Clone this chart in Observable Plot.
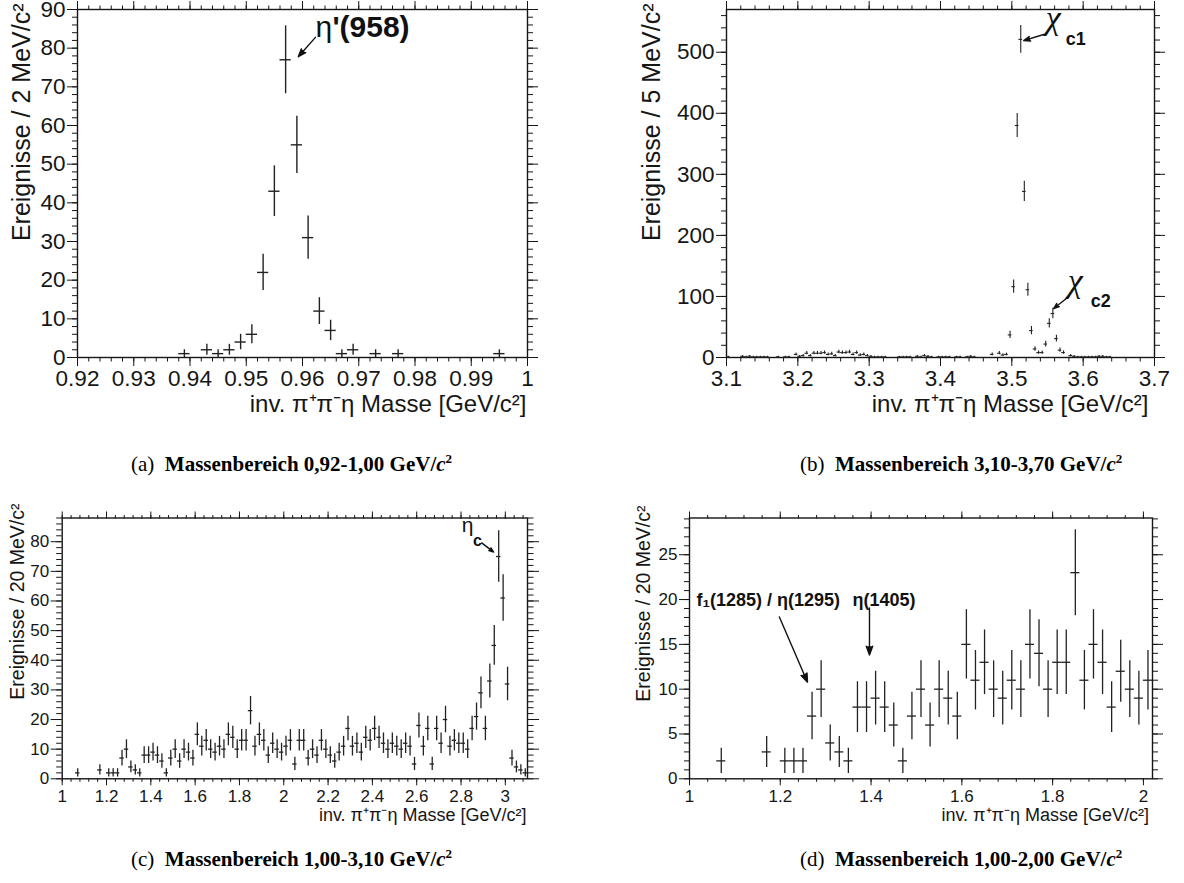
<!DOCTYPE html>
<html><head><meta charset="utf-8">
<script src="https://cdn.jsdelivr.net/npm/d3@7"></script>
<script src="https://cdn.jsdelivr.net/npm/@observablehq/plot@0.6"></script>
<style>
body{margin:0;background:#fff;}
#fig{position:relative;width:1184px;height:883px;background:#fff;overflow:hidden;}
#fig svg{position:absolute;max-width:none;}
.cap{position:absolute;font-family:"Liberation Serif","Times New Roman",serif;font-size:21px;white-space:nowrap;color:#000;line-height:1;}
.cap b{font-weight:bold;}
</style></head><body><div id="fig"></div>
<script>
// ---------- Panel (a): 0.92-1.00 GeV, 2 MeV bins ----------
const massA  = [0.939,0.943,0.945,0.947,0.949,0.951,0.953,0.955,0.957,0.959,0.961,0.963,0.965,0.967,0.969,0.973,0.977,0.995];
const countA = [1,2,1,2,4,6,22,43,77,55,31,12,7,1,2,1,1,1];
const xTicksA = [0.92,0.93,0.94,0.95,0.96,0.97,0.98,0.99,1];
const xLabelsA = ["0.92","0.93","0.94","0.95","0.96","0.97","0.98","0.99","1"];
const yTicksA = [0,10,20,30,40,50,60,70,80,90];
const yLabelsA = ["0","10","20","30","40","50","60","70","80","90"];

// ---------- Panel (b): 3.10-3.70 GeV, 5 MeV bins ----------
const massB = [3.1025,3.1225,3.1275,3.1325,3.1375,3.1425,3.1475,3.1525,3.1575,3.1725,3.1825,3.1875,
  3.1975,3.2025,3.2075,3.2125,3.2175,3.2225,3.2275,3.2325,3.2375,3.2425,3.2475,3.2525,3.2575,3.2625,
  3.2675,3.2725,3.2775,3.2825,3.2875,3.2925,3.2975,3.3025,3.3075,3.3125,3.3175,3.3225,3.3425,3.3475,
  3.3525,3.3575,3.3675,3.3725,3.3775,3.3825,3.3875,3.3975,3.4025,3.4075,3.4125,3.4225,3.4275,3.4375,
  3.4425,3.4475,3.4725,3.4825,3.4875,3.4925,3.4975,3.5025,3.5075,3.5125,3.5175,3.5225,3.5275,3.5325,
  3.5375,3.5425,3.5475,3.5525,3.5575,3.5625,3.5675,3.5725,3.5825,3.5875,3.5925,3.5975,3.6025,3.6075,
  3.6125,3.6175,3.6225,3.6275,3.6325,3.6375];
const countB = [1,2,1,2,1,1,1,1,1,1,1,1,
  5,2,3,7,3,7,7,7,8,5,6,3,9,8,
  8,9,5,8,4,5,3,2,1,1,1,1,1,1,
  1,1,2,1,3,2,1,1,1,1,1,1,1,1,
  2,1,5,7,4,5,37,116,380,521,272,111,44,14,
  8,8,22,56,72,31,12,8,3,2,1,1,1,1,
  1,1,2,2,1,1];
const xTicksB = [3.1,3.2,3.3,3.4,3.5,3.6,3.7];
const xLabelsB = ["3.1","3.2","3.3","3.4","3.5","3.6","3.7"];
const yTicksB = [0,100,200,300,400,500];
const yLabelsB = ["0","100","200","300","400","500"];

// ---------- Panel (c): 1.00-3.10 GeV, 20 MeV bins ----------
const massC = [1.07,1.17,1.21,1.23,1.25,1.27,1.29,1.31,1.33,1.35,1.37,1.39,1.41,1.43,1.45,1.47,1.49,1.51,1.53,1.55,
  1.57,1.59,1.61,1.63,1.65,1.67,1.69,1.71,1.73,1.75,1.77,1.79,1.81,1.83,1.85,1.87,1.89,1.91,1.93,1.95,1.97,1.99,
  2.01,2.03,2.05,2.07,2.09,2.11,2.13,2.15,2.17,2.19,2.21,2.23,2.25,2.27,2.29,2.31,2.33,2.35,2.37,2.39,2.41,2.43,
  2.45,2.47,2.49,2.51,2.53,2.55,2.57,2.59,2.61,2.63,2.65,2.67,2.69,2.71,2.73,2.75,2.77,2.79,2.81,2.83,2.85,2.87,
  2.89,2.91,2.93,2.95,2.97,2.99,3.01,3.03,3.05,3.07,3.09];
const countC = [2,3,2,2,2,7,10,4,3,2,8,8,9,8,6,2,7,10,6,10,
  9,7,15,11,13,10,9,11,10,15,14,10,13,13,23,11,15,13,8,12,10,9,
  11,13,5,13,13,7,10,8,13,10,8,6,9,11,17,11,12,9,14,13,17,14,
  12,10,12,11,10,12,11,5,18,11,17,5,17,12,20,11,13,12,12,10,17,21,
  29,17,33,45,75,61,32,7,4,3,2];
const xTicksC = [1,1.2,1.4,1.6,1.8,2,2.2,2.4,2.6,2.8,3];
const xLabelsC = ["1","1.2","1.4","1.6","1.8","2","2.2","2.4","2.6","2.8","3"];
const yTicksC = [0,10,20,30,40,50,60,70,80];
const yLabelsC = ["0","10","20","30","40","50","60","70","80"];

// ---------- Panel (d): 1.00-2.00 GeV, 20 MeV bins ----------
const massD = [1.07,1.17,1.21,1.23,1.25,1.27,1.29,1.31,1.33,1.35,1.37,1.39,1.41,1.43,1.45,1.47,1.49,1.51,1.53,1.55,
  1.57,1.59,1.61,1.63,1.65,1.67,1.69,1.71,1.73,1.75,1.77,1.79,1.81,1.83,1.85,1.87,1.89,1.91,1.93,1.95,1.97,1.99,2.01];
const countD = [2,3,2,2,2,7,10,4,3,2,8,8,9,8,6,2,7,10,6,10,
  9,7,15,11,13,10,9,11,10,15,14,10,13,13,23,11,15,13,8,12,10,9,11];
const xTicksD = [1,1.2,1.4,1.6,1.8,2];
const xLabelsD = ["1","1.2","1.4","1.6","1.8","2"];
const yTicksD = [0,5,10,15,20,25];
const yLabelsD = ["0","5","10","15","20","25"];

// ---------- Texts ----------
const xTitle = "inv. π⁺π⁻η Masse [GeV/c²]";
const yTitles = ["Ereignisse / 2 MeV/c²","Ereignisse / 5 MeV/c²","Ereignisse / 20 MeV/c²","Ereignisse / 20 MeV/c²"];

// ---------- Annotations (data coordinates) ----------
const SANS = '"Liberation Sans", Arial, Helvetica, sans-serif';
const SERIF = '"Liberation Serif", "Times New Roman", serif';
const labelsA = [{x:0.9623,y:85.3,t:"η",w:"normal",dx:0,fs:30,ff:SANS,st:"normal"},
                 {x:0.9623,y:85.3,t:"'(958)",w:"bold",dx:17,fs:30,ff:SANS,st:"normal"}];
const arrowsA = [{x1:0.9623,y1:82.8,x2:0.95925,y2:77.8}];
const labelsB = [{x:3.5474,y:556,t:"χ",w:"normal",dx:0,fs:34,ff:SERIF,st:"italic"},
                 {x:3.5755,y:520.5,t:"c1",w:"bold",dx:0,fs:18,ff:SANS,st:"normal"},
                 {x:3.5783,y:125.9,t:"χ",w:"normal",dx:0,fs:34,ff:SERIF,st:"italic"},
                 {x:3.6105,y:91.4,t:"c2",w:"bold",dx:0,fs:18,ff:SANS,st:"normal"}];
const arrowsB = [{x1:3.5446,y1:529,x2:3.5166,y2:519},{x1:3.5783,y1:98.3,x2:3.5586,y2:80.2}];
const labelsC = [{x:2.8032,y:85.6,t:"η",w:"normal",dx:0,fs:21,ff:SANS,st:"normal"},
                 {x:2.8545,y:80.3,t:"c",w:"bold",dx:0,fs:16,ff:SANS,st:"normal"}];
const arrowsC = [{x1:2.8932,y1:79.6,x2:2.9473,y2:76.5}];
const labelsD = [{x:1.0154,y:19.94,t:"f₁(1285) / η(1295)",w:"bold",dx:0,fs:18,ff:SANS,st:"normal"},
                 {x:1.359,y:19.94,t:"η(1405)",w:"bold",dx:0,fs:18,ff:SANS,st:"normal"}];
const arrowsD = [{x1:1.198,y1:18.06,x2:1.260,y2:10.78},{x1:1.3965,y1:19.07,x2:1.3965,y2:13.81}];

function rangeTicks(a, b, step, dec){ const out=[]; const n=Math.round((b-a)/step); for(let i=0;i<=n;i++) out.push(+(a+i*step).toFixed(dec)); return out; }

const INK = "#161616";
function panel(c){
  const data = c.xs.map((x,i)=>({x, y:c.ys[i]}));
  const fx = new Map(c.xMajor.map((v,i)=>[v,c.xLabels[i]]));
  const fy = new Map(c.yMajor.map((v,i)=>[v,c.yLabels[i]]));
  const none = () => "";
  const marks = [
    Plot.axisX({anchor:"bottom", ticks:c.xMajor, tickSize:c.xt, tickPadding:c.xpad, tickFormat:d=>fx.get(d), label:null, stroke:INK}),
    Plot.axisX({anchor:"bottom", ticks:c.xMinor, tickSize:c.xt/2, tickFormat:none, label:null, stroke:INK}),
    Plot.axisX({anchor:"top", ticks:c.xMajor, tickSize:c.xt, tickFormat:none, label:null, stroke:INK}),
    Plot.axisX({anchor:"top", ticks:c.xMinor, tickSize:c.xt/2, tickFormat:none, label:null, stroke:INK}),
    Plot.axisY({anchor:"left", ticks:c.yMajor, tickSize:c.yt, tickPadding:c.ypad, tickFormat:d=>fy.get(d), label:null, stroke:INK}),
    Plot.axisY({anchor:"left", ticks:c.yMinor, tickSize:c.yt/2, tickFormat:none, label:null, stroke:INK}),
    Plot.axisY({anchor:"right", ticks:c.yMajor, tickSize:c.yt, tickFormat:none, label:null, stroke:INK}),
    Plot.axisY({anchor:"right", ticks:c.yMinor, tickSize:c.yt/2, tickFormat:none, label:null, stroke:INK}),
    Plot.frame({stroke:INK, strokeWidth:1.4}),
    Plot.ruleX(data, {x:"x", y1:d=>Math.max(0,d.y-Math.sqrt(d.y)), y2:d=>d.y+Math.sqrt(d.y), stroke:"#222", strokeWidth:c.sw}),
    Plot.ruleY(data, {y:"y", x1:d=>d.x-c.binW/2, x2:d=>d.x+c.binW/2, stroke:"#222", strokeWidth:c.sw}),
    Plot.text([c.yTitle], {frameAnchor:"top-left", text:d=>d, rotate:-90, textAnchor:"end", dx:c.ytdx, dy:c.ytdy, fontSize:c.yTitleFs, fill:INK}),
    Plot.text([xTitle], {frameAnchor:"bottom-right", text:d=>d, textAnchor:"end", dx:c.xtdx, dy:c.xtdy, fontSize:c.xTitleFs, fill:INK}),
    Plot.arrow(c.arrows, {x1:"x1", y1:"y1", x2:"x2", y2:"y2", stroke:"#111", fill:"#111", strokeWidth:1.4, headLength:c.head, headAngle:40}),
    ...c.labels.map(l => Plot.text([l], {x:"x", y:"y", text:"t", textAnchor:"start", fontWeight:l.w, fontStyle:l.st, fontFamily:l.ff, dx:l.dx, fontSize:l.fs, fill:"#111"}))
  ];
  const svg = Plot.plot({
    width:c.width, height:c.height,
    marginLeft:c.mL, marginRight:c.mR, marginTop:c.mT, marginBottom:c.mB,
    x:{domain:c.xDomain}, y:{domain:c.yDomain},
    style:{fontFamily:SANS, fontSize:c.tickFs+"px", color:INK, background:"transparent", overflow:"visible"},
    marks
  });
  svg.style.left = c.left+"px"; svg.style.top = c.top+"px";
  return svg;
}

const fig = document.getElementById("fig");
fig.appendChild(panel({left:0, top:0, width:592, height:440, mL:77, mR:65, mT:9, mB:83,
  xDomain:[0.92,1], yDomain:[0,90], xMajor:xTicksA, xLabels:xLabelsA, xMinor:rangeTicks(0.92,1,0.002,3),
  yMajor:yTicksA, yLabels:yLabelsA, yMinor:rangeTicks(0,90,2,0), xs:massA, ys:countA, binW:0.002,
  xt:9, xpad:4, yt:10, ypad:2, tickFs:22.5, xTitleFs:24, yTitleFs:25, sw:1.4, yTitle:yTitles[0], ytdx:-65.5, ytdy:-6, xtdx:-1, xtdy:54,
  arrows:arrowsA, labels:labelsA, head:9}));
fig.appendChild(panel({left:592, top:0, width:592, height:440, mL:134, mR:30, mT:9, mB:83,
  xDomain:[3.1,3.7], yDomain:[0,570], xMajor:xTicksB, xLabels:xLabelsB, xMinor:rangeTicks(3.1,3.7,0.02,2),
  yMajor:yTicksB, yLabels:yLabelsB, yMinor:rangeTicks(0,560,20,0), xs:massB, ys:countB, binW:0.005,
  xt:9, xpad:4, yt:10, ypad:2, tickFs:22.5, xTitleFs:24, yTitleFs:25, sw:1.1, yTitle:yTitles[1], ytdx:-84, ytdy:-6, xtdx:-6, xtdy:54,
  arrows:arrowsB, labels:labelsB, head:9}));
fig.appendChild(panel({left:0, top:440, width:592, height:400, mL:61.7, mR:65, mT:77.5, mB:61.7,
  xDomain:[1,3.1], yDomain:[0,88], xMajor:xTicksC, xLabels:xLabelsC, xMinor:rangeTicks(1,3.08,0.04,2),
  yMajor:yTicksC, yLabels:yLabelsC, yMinor:rangeTicks(0,88,2,0), xs:massC, ys:countC, binW:0.02,
  xt:7, xpad:4, yt:11, ypad:2, tickFs:17, xTitleFs:18, yTitleFs:19.5, sw:1.3, yTitle:yTitles[2], ytdx:-52, ytdy:-14.5, xtdx:-1, xtdy:42,
  arrows:arrowsC, labels:labelsC, head:9}));
fig.appendChild(panel({left:592, top:440, width:592, height:400, mL:97, mR:32, mT:77.5, mB:61.7,
  xDomain:[1,2.02], yDomain:[0,29.1], xMajor:xTicksD, xLabels:xLabelsD, xMinor:rangeTicks(1,2,0.04,2),
  yMajor:yTicksD, yLabels:yLabelsD, yMinor:rangeTicks(0,29,1,0), xs:massD, ys:countD, binW:0.02,
  xt:7, xpad:4, yt:10, ypad:2, tickFs:17, xTitleFs:18, yTitleFs:19.5, sw:1.3, yTitle:yTitles[3], ytdx:-53, ytdy:-12.5, xtdx:-3.5, xtdy:42,
  arrows:arrowsD, labels:labelsD, head:10}));

// ---------- Captions ----------
const captions = [
  {left:131, top:452, tag:"(a)", text:"Massenbereich 0,92-1,00 GeV/"},
  {left:800, top:452, tag:"(b)", text:"Massenbereich 3,10-3,70 GeV/"},
  {left:131, top:847, tag:"(c)", text:"Massenbereich 1,00-3,10 GeV/"},
  {left:800, top:847, tag:"(d)", text:"Massenbereich 1,00-2,00 GeV/"}
];
for (const c of captions){
  const d = document.createElement("div");
  d.className = "cap"; d.style.left = c.left+"px"; d.style.top = c.top+"px";
  d.innerHTML = c.tag + "&nbsp; <b>" + c.text + "<i>c</i><sup style='font-size:13px'>2</sup></b>";
  fig.appendChild(d);
}
</script></body></html>
